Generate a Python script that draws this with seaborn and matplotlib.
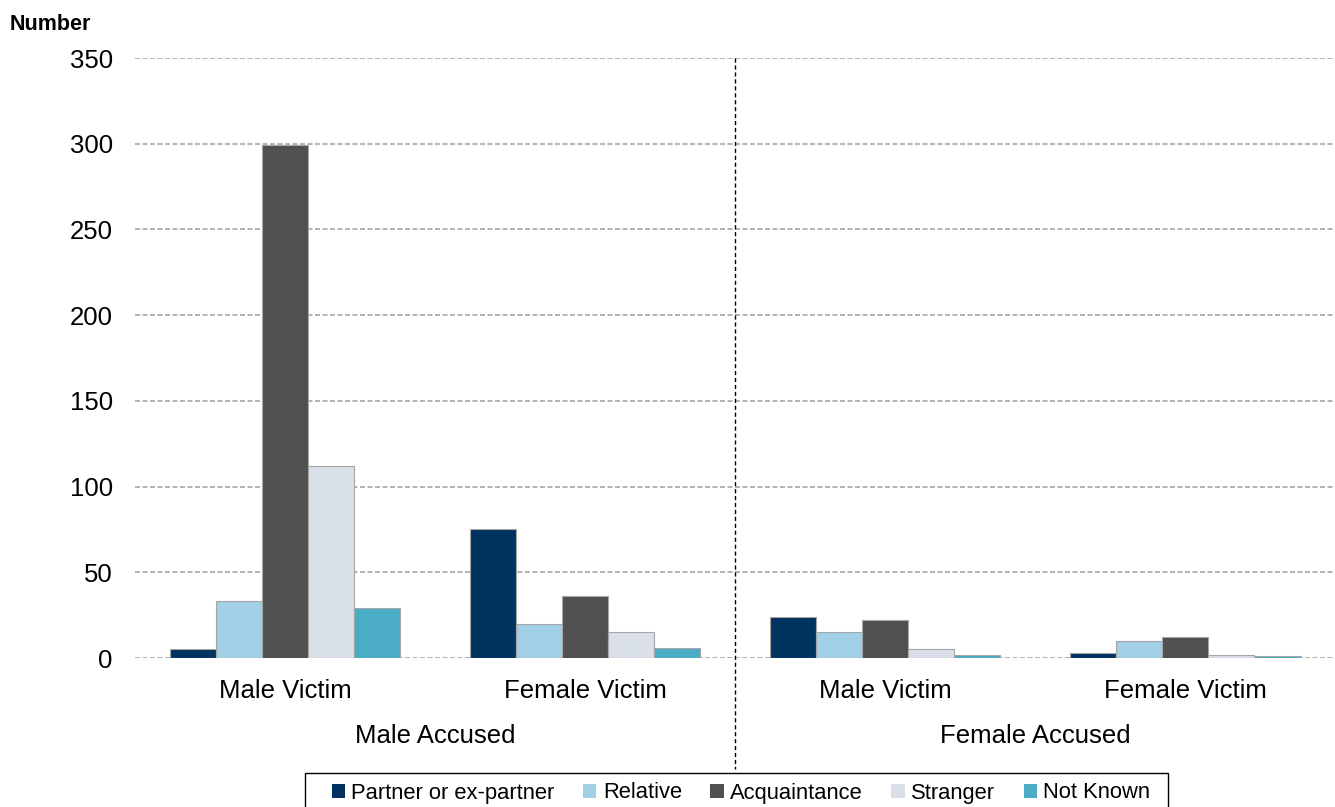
import matplotlib
matplotlib.use("Agg")
import matplotlib.pyplot as plt
from matplotlib.patches import Rectangle
import seaborn as sns
import pandas as pd

groups = ["MA_MV", "MA_FV", "FA_MV", "FA_FV"]
group_labels = ["Male Victim", "Female Victim", "Male Victim", "Female Victim"]
accused_labels = ["Male Accused", "Female Accused"]
relationships = ["Partner or ex-partner", "Relative", "Acquaintance", "Stranger", "Not Known"]
partner = [5, 75, 24, 3]
relative = [33, 20, 15, 10]
acquaintance = [299, 36, 22, 12]
stranger = [112, 15, 5, 2]
not_known = [29, 6, 2, 1]
colors = ["#003360", "#A1D0E7", "#505050", "#D9E0E8", "#4BACC6"]
yticks = [0, 50, 100, 150, 200, 250, 300, 350]

series = [partner, relative, acquaintance, stranger, not_known]
rows = []
for rel, vals in zip(relationships, series):
    for g, v in zip(groups, vals):
        rows.append({"group": g, "relationship": rel, "value": v})
df = pd.DataFrame(rows)

sns.set_theme(style="white")
plt.rcParams["font.family"] = ["Liberation Sans", "DejaVu Sans"]

fig = plt.figure(figsize=(13.35, 8.07), dpi=100)
ax = fig.add_axes([135/1335, 1-658/807, 1-135/1335, 600/807])

sns.barplot(data=df, x="group", y="value", hue="relationship", order=groups,
            hue_order=relationships, palette=colors, width=0.77, ax=ax,
            edgecolor="#A6A6A6", linewidth=0.8, saturation=1, legend=True, errorbar=None)

ax.set_ylim(0, 350)
ax.set_xlim(-0.5, 3.5)
ax.set_yticks(yticks)
ax.set_yticklabels([str(t) for t in yticks], fontsize=18.5, color="black")
ax.yaxis.grid(True, color="#A6A6A6", linestyle=(0, (3, 1.5)), linewidth=1.2)
ax.set_axisbelow(True)
for s in ax.spines.values():
    s.set_visible(False)
ax.tick_params(axis="y", length=0, pad=16)
ax.tick_params(axis="x", length=0, pad=15)
ax.set_xticks(range(4))
ax.set_xticklabels(group_labels, fontsize=18.5, color="black")
ax.set_xlabel("")
ax.set_ylabel("")

trans = ax.get_xaxis_transform()
ax.plot([1.5, 1.5], [1.0, -0.185], transform=trans, color="black",
        linestyle=(0, (3, 2)), linewidth=1, clip_on=False)
ax.text(0.5, (658-736)/600, accused_labels[0], transform=trans, ha="center", va="center",
        fontsize=18.5, color="black")
ax.text(2.5, (658-736)/600, accused_labels[1], transform=trans, ha="center", va="center",
        fontsize=18.5, color="black")

fig.text(10/1335, 1-24/807, "Number", fontsize=15.5, fontweight="bold", ha="left", va="center",
         color="black")

handles, labels = ax.get_legend_handles_labels()
ax.legend_.remove()
leg = fig.legend(handles, labels, loc="center", bbox_to_anchor=(741/1335, 1-793/807),
                 ncol=5, fontsize=15.8, frameon=False, handlelength=0.6,
                 handleheight=0.6, handletextpad=0.3, columnspacing=1.3, borderpad=0,
                 borderaxespad=0)
for t in leg.get_texts():
    t.set_color("black")
for h in leg.legend_handles:
    h.set_edgecolor("none")

frame = Rectangle((305/1335, -0.02), (1168-305)/1335, 0.02 + (807-773)/807,
                  transform=fig.transFigure, fill=False, edgecolor="black", linewidth=1.0)
fig.add_artist(frame)

fig.savefig("out.png", dpi=100)
